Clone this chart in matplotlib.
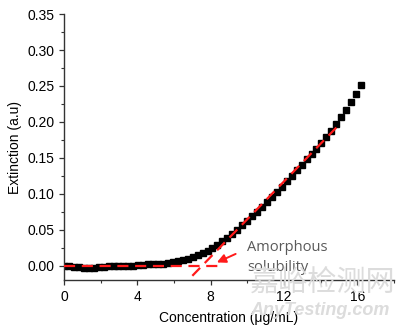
"""
Extinction vs concentration, amorphous solubility crossover
"""
import matplotlib
matplotlib.use("Agg")
import matplotlib.pyplot as plt
from matplotlib.ticker import MultipleLocator

# measured points (ug/mL, a.u.)
conc = [0.00, 0.27, 0.54, 0.81, 1.08, 1.35, 1.62, 1.89, 2.16, 2.43,
        2.70, 2.97, 3.24, 3.51, 3.78, 4.05, 4.32, 4.59, 4.86, 5.13,
        5.40, 5.67, 5.94, 6.21, 6.48, 6.75, 7.02, 7.29, 7.56, 7.83,
        8.10, 8.37, 8.64, 8.91, 9.18, 9.45, 9.72, 9.99, 10.26, 10.53,
        10.80, 11.07, 11.34, 11.61, 11.88, 12.15, 12.42, 12.69, 12.96, 13.23,
        13.50, 13.77, 14.04, 14.31, 14.58, 14.85, 15.12, 15.39, 15.66, 15.93,
        16.20]
ext = [0.000, -0.001, -0.002, -0.002, -0.003, -0.003, -0.003, -0.002, -0.002, -0.001,
       -0.001, -0.001, 0.000, 0.000, 0.000, 0.001, 0.001, 0.002, 0.002, 0.003,
       0.003, 0.004, 0.005, 0.006, 0.008, 0.010, 0.012, 0.015, 0.018, 0.021,
       0.025, 0.029, 0.034, 0.039, 0.044, 0.050, 0.056, 0.062, 0.069, 0.075,
       0.082, 0.089, 0.096, 0.103, 0.110, 0.118, 0.125, 0.133, 0.140, 0.148,
       0.155, 0.163, 0.171, 0.179, 0.188, 0.197, 0.207, 0.217, 0.228, 0.239,
       0.251]

# dashed guide lines
base_x = [0.0, 8.6]
base_y = [0.0, 0.0]
fit_x = [7.0, 15.0]
fit_y = [-0.014, 0.196]

xticks = [0, 4, 8, 12, 16]
yticks = [0.00, 0.05, 0.10, 0.15, 0.20, 0.25, 0.30, 0.35]

plt.rcParams['font.family'] = ['Liberation Sans', 'DejaVu Sans']

fig = plt.figure(figsize=(4.0, 3.28), dpi=100)
ax = fig.add_axes([0.16, 0.146, 0.825, 0.811])

ax.plot(conc, ext, 's', color='black', markersize=4.0, zorder=2)
ax.plot(base_x, base_y, '--', color='#ff1a1a', lw=1.6, dashes=(5, 3), zorder=3)
ax.plot(fit_x, fit_y, '--', color='#ff1a1a', lw=1.6, dashes=(5, 3), zorder=3)

ax.annotate('', xy=(8.2, 0.003), xytext=(9.5, 0.018),
            arrowprops=dict(arrowstyle='-|>', color='#ff1a1a', lw=1.4,
                            mutation_scale=13))
ax.text(10.0, 0.025, 'Amorphous', color='#595959', fontsize=10.5,
        family=['Open Sans', 'DejaVu Sans'], va='center')
ax.text(10.0, -0.003, 'solubility', color='#595959', fontsize=10.5,
        family=['Open Sans', 'DejaVu Sans'], va='center')

ax.set_xlim(0, 18)
ax.set_ylim(-0.02, 0.35)
ax.set_xticks(xticks)
ax.set_yticks(yticks)
ax.set_yticklabels([f'{v:.2f}' for v in yticks])
ax.xaxis.set_minor_locator(MultipleLocator(2))
ax.yaxis.set_minor_locator(MultipleLocator(0.025))
ax.tick_params(which='both', direction='out', colors='#333333', labelcolor='black', labelsize=10)
ax.tick_params(which='major', length=3.5, width=0.9)
ax.tick_params(which='minor', length=2, width=0.8)
for side in ['top', 'right']:
    ax.spines[side].set_visible(False)
for side in ['left', 'bottom']:
    ax.spines[side].set_color('#333333')
    ax.spines[side].set_linewidth(1.0)

ax.set_xlabel('Concentration (\u03bcg/mL)', fontsize=10, labelpad=5)
ax.set_ylabel('Extinction (a.u)', fontsize=10, labelpad=4)

# watermark from the source picture
fig.text(0.807, 0.134, '嘉峪检测网', color='#dcdcdc', fontsize=21,
         family=['Noto Sans CJK SC', 'DejaVu Sans'], ha='center', va='center', zorder=0)
fig.text(0.80, 0.052, 'AnyTesting.com', color='#dcdcdc', fontsize=13,
         style='italic', weight='bold', ha='center', va='center', zorder=0)

fig.savefig('out.png', dpi=100)
